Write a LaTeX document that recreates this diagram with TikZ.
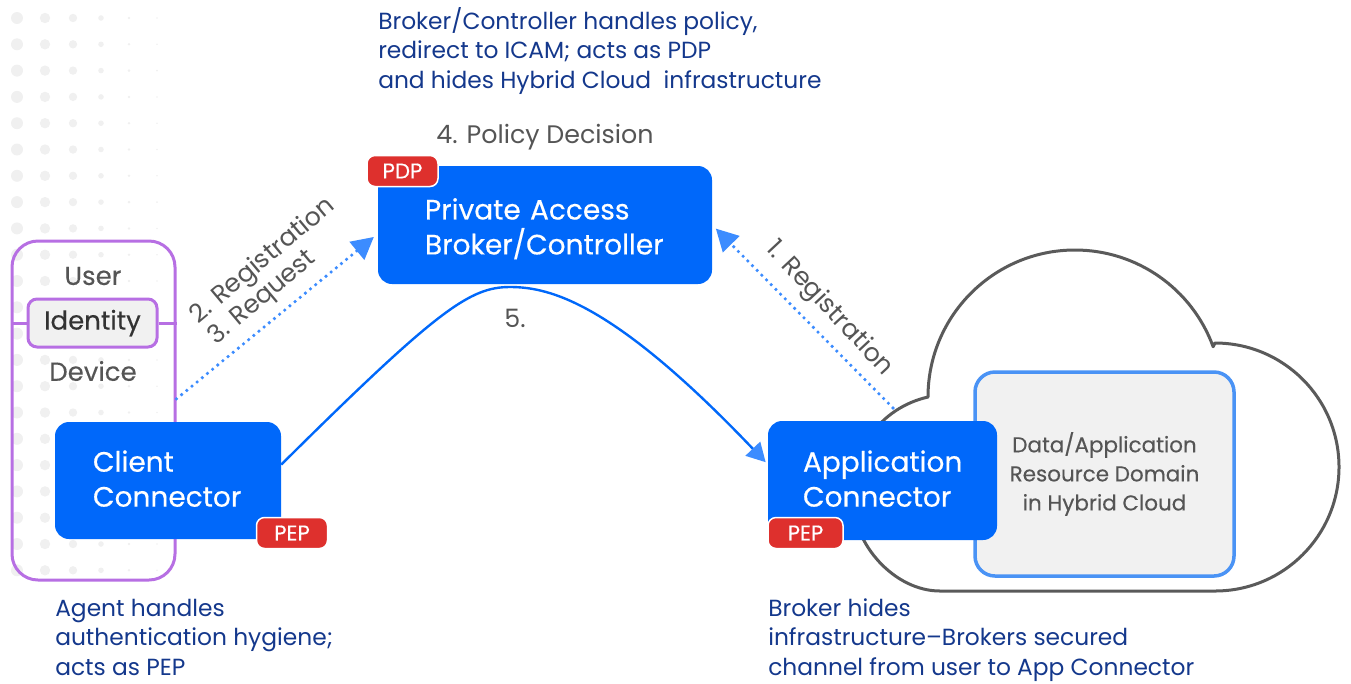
\documentclass[tikz,border=0pt]{standalone}
\usepackage{fontspec}
\setmainfont{Poppins}
\usetikzlibrary{arrows.meta}

\definecolor{boxblue}{HTML}{0068FA}
\definecolor{tipblue}{HTML}{3C8CFF}
\definecolor{edgeblue}{HTML}{4A93F5}
\definecolor{badgered}{HTML}{DE302D}
\definecolor{lilac}{HTML}{B76FE3}
\definecolor{navy}{HTML}{14388C}
\definecolor{txtgray}{HTML}{555555}
\definecolor{panelgray}{HTML}{F1F1F1}
\definecolor{dotgray}{HTML}{F0F0F0}
\definecolor{cloudgray}{HTML}{5A5A5A}

% one unit = one pixel of the 1351 x 683 layout
\newcommand\pxu{0.75pt}

\tikzset{
  bluebox/.style={fill=boxblue, rounded corners=14*\pxu, text=white, align=left,
    inner ysep=0pt, font=\fontsize{21}{26.2}\selectfont\addfontfeature{FakeBold=0.4}},
  badge/.style={fill=badgered, draw=white, line width=1.5*\pxu, rounded corners=8*\pxu,
    text=white, minimum width=71*\pxu, minimum height=31*\pxu, inner sep=0pt,
    font=\fontsize{16}{18}\selectfont\addfontfeature{FakeBold=0.4}},
  userbox/.style={draw=lilac, line width=3*\pxu, rounded corners=26*\pxu,
    minimum width=163*\pxu, minimum height=339*\pxu},
  idbox/.style={draw=lilac, fill=panelgray, line width=3*\pxu, rounded corners=9*\pxu,
    minimum width=129*\pxu, minimum height=48*\pxu, text=black!80,
    font=\fontsize{19.5}{22}\selectfont\addfontfeature{FakeBold=0.3}},
  graytxt/.style={text=txtgray, font=\fontsize{19.5}{22}\selectfont\addfontfeature{FakeBold=0.2}},
  lbl/.style={text=txtgray, font=\fontsize{19}{21}\selectfont, inner sep=0pt},
  note/.style={text=navy, align=left, inner sep=0pt, font=\fontsize{17.5}{22.1}\selectfont},
  databox/.style={draw=edgeblue, fill=panelgray, line width=3.5*\pxu, rounded corners=20*\pxu,
    minimum width=259*\pxu, minimum height=204*\pxu, align=center, text=txtgray,
    font=\fontsize{16.1}{21.8}\selectfont\addfontfeature{FakeBold=0.3}},
  cloudline/.style={draw=cloudgray, line width=3*\pxu, line join=round},
  regline/.style={tipblue, line width=3.6*\pxu, line cap=round, dash pattern=on 0pt off 5pt,
    -{Triangle[length=16.5pt, width=17pt]}},
  flowline/.style={boxblue, line width=2.4*\pxu,
    -{Triangle[length=14pt, width=15pt, color=tipblue, fill=tipblue]}}
}

\begin{document}
\begin{tikzpicture}[x=0.75pt, y=-0.75pt]
\useasboundingbox (0,0) rectangle (1351,683);

% dotted backdrop, fading to the right
\foreach \r in {0,...,21}
  \foreach \c/\rad in {0/6,1/5.2,2/4.2,3/2.8,4/1.4,5/0.9}
    \fill[dotgray] ({17+28*\c},{18+26.3*\r}) circle (\rad);

% user / device column
\node[userbox] (ud) at (93.5,410.5) {};
\node[graytxt] (user) at (93,276) {User};
\node[idbox] (id) at (92.5,323) {Identity};
\node[graytxt] (dev) at (93,371) {Device};
\draw[lilac, line width=3*\pxu] (id.west) -- (id.west -| ud.west);
\draw[lilac, line width=3*\pxu] (id.east) -- (id.east -| ud.east);

% hybrid cloud outline
\draw[cloudline] (928,397) arc[start angle=180, end angle=340, radius=147]
  -- (1215,343) arc[start angle=270, end angle=450, radius=124]
  -- (940,591) .. controls (895,591) and (852,545) .. (852,495)
  .. controls (852,450) and (880,408) .. cycle;
\coordinate (cl) at (893,408);

\node[databox] (dd) at (1104.5,474) {Data/Application\\Resource Domain\\in Hybrid Cloud};

% the three connector boxes
\node[bluebox, text width=240*\pxu, inner xsep=47*\pxu, minimum height=118*\pxu]
  (br) at (545,225) {\rule{0pt}{21.5pt}Private Access\\Broker/Controller};
\node[bluebox, text width=150*\pxu, inner xsep=38*\pxu, minimum height=117*\pxu]
  (cc) at (168,480.5) {Client\\Connector\rule[-3pt]{0pt}{3pt}};
\node[bluebox, text width=159*\pxu, inner xsep=35*\pxu, minimum height=119*\pxu]
  (ac) at (882.5,480.5) {Application\\Connector\rule[-3pt]{0pt}{3pt}};

\node[badge] (pdp) at (402.5,171) {PDP};
\node[badge] (pep1) at (292,533) {PEP};
\node[badge, minimum width=75*\pxu] (pep2) at (805.5,533) {PEP};

% connectors
\coordinate (top5) at (510,287);
\draw[regline, shorten >=5*\pxu] (ud.8) -- (br.183);
\draw[regline, shorten >=5*\pxu] (cl) -- (br.east);
\draw[flowline, shorten >=3*\pxu] (cc.8) .. controls (438,309) and (470,287) .. (top5)
  .. controls (550,287) and (614,303) .. (ac.172);

\node[lbl, rotate=40, align=left] (l23) at (272,272) {2. Registration\\3. Request};
\node[lbl, rotate=-47] (l1) at (829,309) {1. Registration};
\node[lbl] (l4) at (545,137) {4. Policy Decision};
\node[lbl] (l5) at (515,318) {5.};

% notes (anchored at the baseline of their last line)
\node[note, anchor=base west] (n1) at (378,88)
  {Broker/Controller handles policy,\\redirect to ICAM; acts as PDP\\and hides Hybrid Cloud~ infrastructure};
\node[note, anchor=base west] (n2) at (55,675)
  {Agent handles\\authentication hygiene;\\acts as PEP};
\node[note, anchor=base west] (n3) at (768,675)
  {Broker hides\\infrastructure--Brokers secured\\channel from user to App Connector};
\end{tikzpicture}
\end{document}
